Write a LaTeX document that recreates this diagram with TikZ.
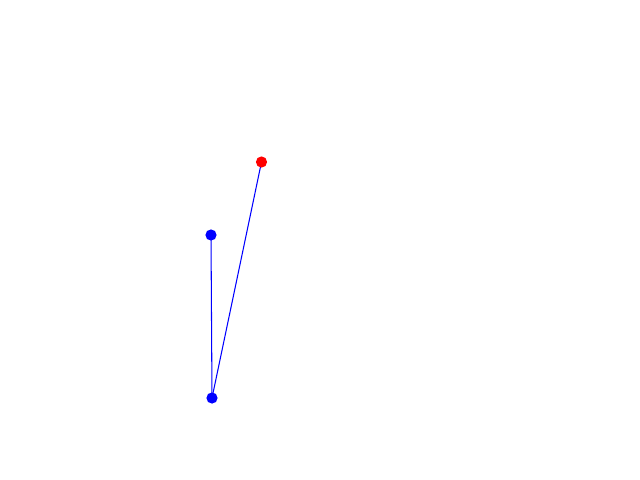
\documentclass[tikz,border=0pt]{standalone}
\usepackage{tikz}
\usetikzlibrary{positioning, backgrounds}

\begin{document}
\begin{tikzpicture}[x=0.025cm, y=-0.025cm, every node/.style={font=\small}]
  \useasboundingbox (0,0) rectangle (640,480);
  \tikzset{joint/.style={circle, inner sep=0pt, minimum size=0.28cm},
           link/.style={blue, line width=0.75pt}}
  \node[joint, fill=red] (tip) at (261.5,162) {};
  \node[joint, fill=blue] (elbow) at (211,235) {};
  \node[joint, fill=blue] (base) at (212,398) {};
  \begin{scope}[on background layer]
    \draw[link] (elbow.center) -- (base.center);
    \draw[link] (base.center) -- (tip.center);
  \end{scope}
\end{tikzpicture}
\end{document}
